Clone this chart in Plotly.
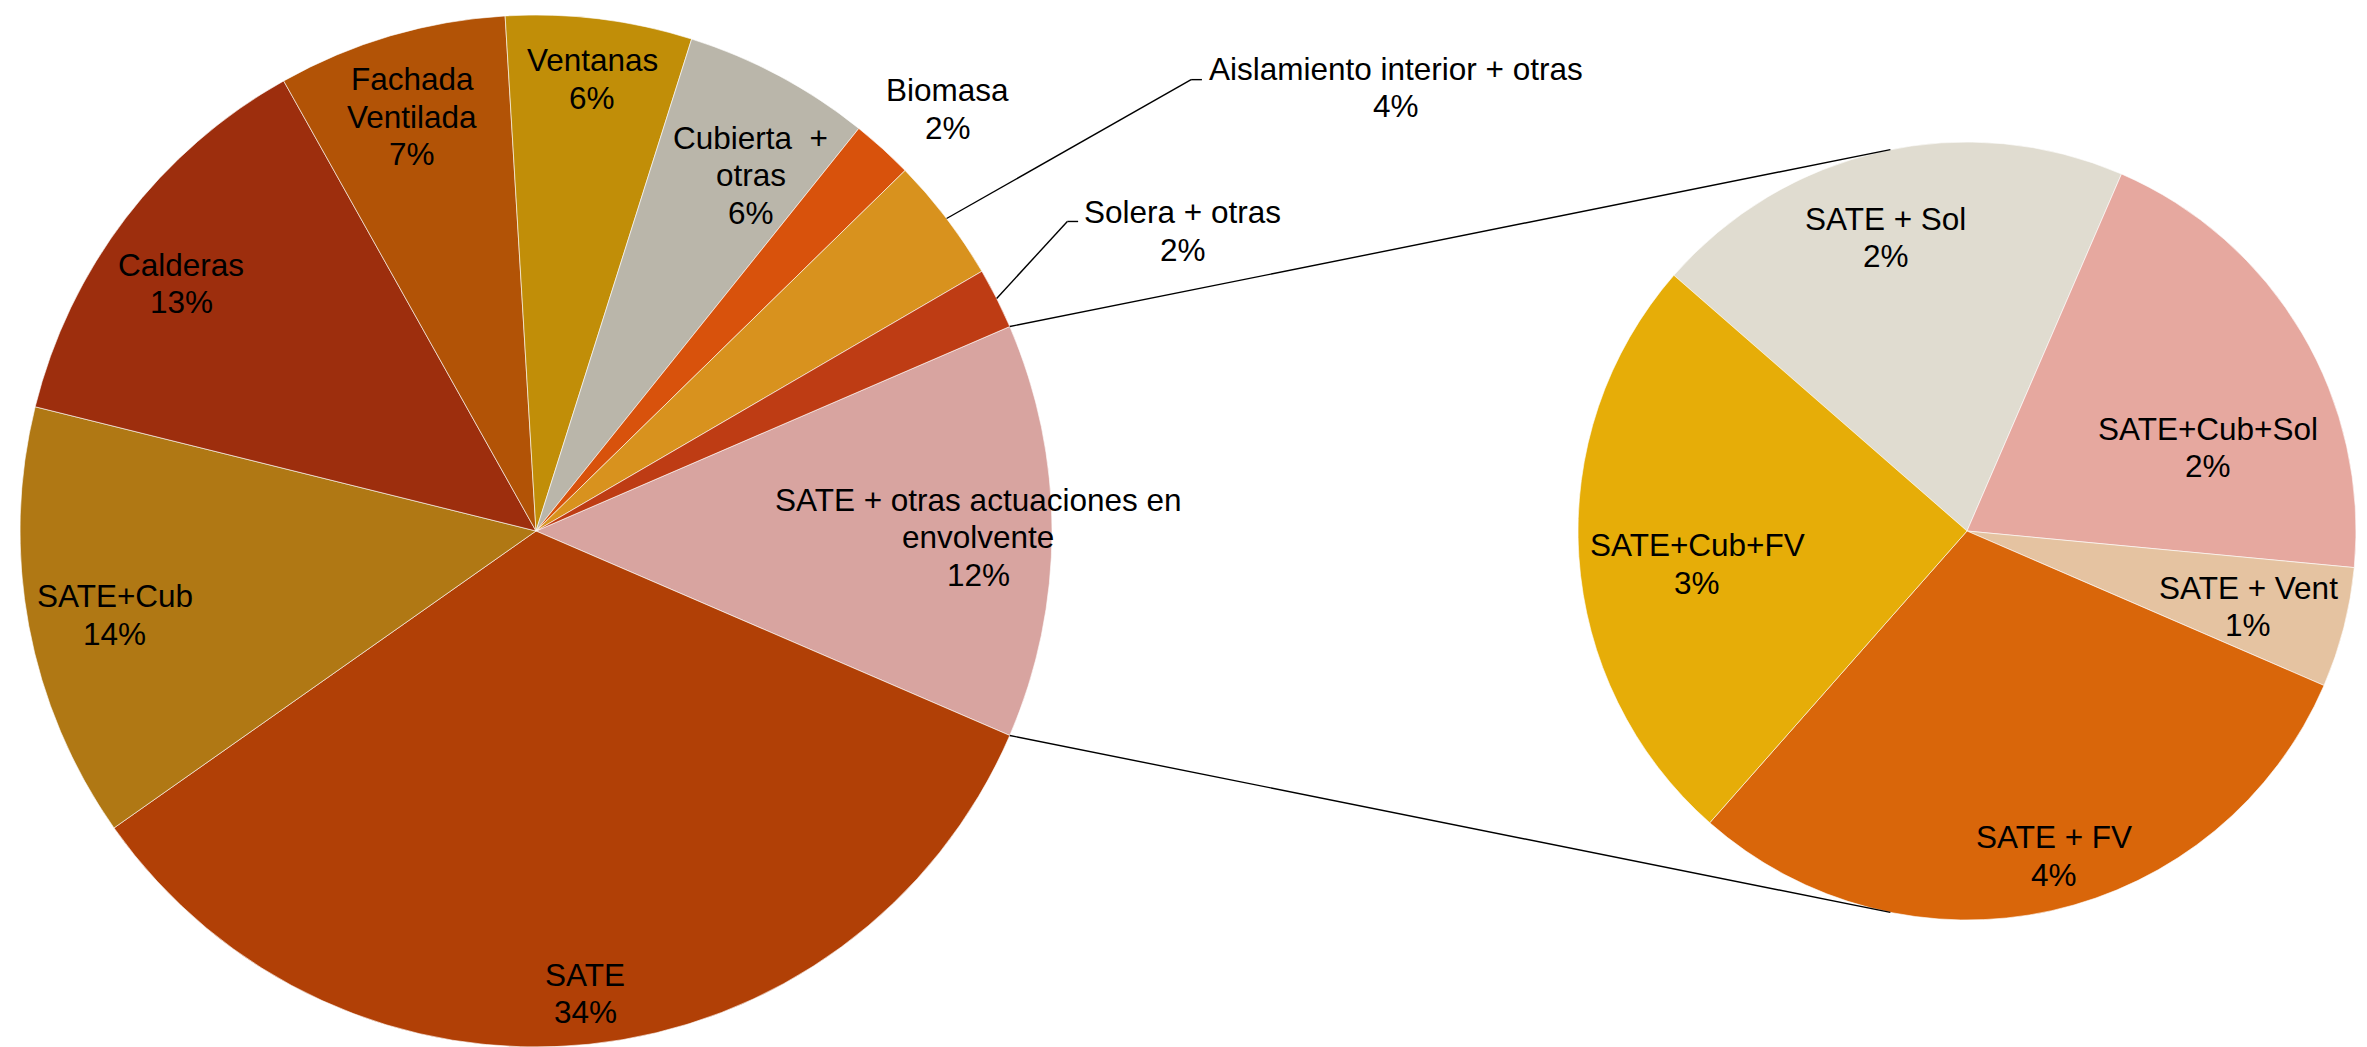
import math
import plotly.graph_objects as go

# ---------------- data ----------------
main_names = ["SATE + otras actuaciones en<br>envolvente", "SATE", "SATE+Cub", "Calderas",
              "Fachada<br>Ventilada", "Ventanas", "Cubierta\u00a0\u00a0+<br>otras", "Biomasa",
              "Aislamiento interior + otras", "Solera + otras"]
main_values = [12.97, 33.76, 13.63, 13.00, 7.18, 5.83, 5.88, 1.93, 3.92, 1.91]
main_pct_text = ["12%", "34%", "14%", "13%", "7%", "6%", "6%", "2%", "4%", "2%"]

sub_names = ["SATE + Sol", "SATE+Cub+Sol", "SATE + Vent", "SATE + FV", "SATE+Cub+FV"]
sub_values = [2.41, 2.40, 0.60, 3.60, 2.99]
sub_pct_text = ["2%", "2%", "1%", "4%", "3%"]

# ---------------- styles ----------------
main_colors = ["#D8A4A0", "#B14006", "#B07814", "#9D2E0D", "#B25306",
               "#C18E08", "#BAB6AA", "#D8520C", "#D8921E", "#BE3C14"]
sub_colors = ["#E0DCD0", "#E6A89F", "#E5C3A1", "#D9660A", "#E6AD08"]

W, H = 2367, 1047
C1, R1 = (536.0, 531.0), 516.0
C2, R2 = (1967.0, 531.0), 389.0
SUB_ROTATION = 311.1
FONT = dict(family="Liberation Sans, Arial, sans-serif", size=31.5, color="#000000")
LINE_H = 37.5  # px between text lines

# label placement: (radius fraction, angle offset from slice mid-angle in degrees)
main_label_pos = [(0.857, 0.8), (0.901, -0.2), (0.833, -0.7), (0.838, -2.4), (0.838, -0.3),
                  (0.883, 0.0), (0.805, 3.0), (1.142, 2.1), (1.875, 10.0), (1.382, 1.9)]
sub_label_pos = [(0.783, -2.7), (0.655, 11.5), (0.748, 0.6), (0.865, -2.4), (0.699, -3.2)]
# leader lines: index -> (corner offset, end offset) in px from label centre
leaders = {8: ((-204.8, -8.0), (-194.0, -8.0)), 9: ((-115.6, -9.5), (-104.8, -9.5))}


def pt(c, r, ang):
    a = math.radians(ang)
    return c[0] + r * math.sin(a), c[1] - r * math.cos(a)


def paper(x, y):
    return x / W, 1 - y / H


def slice_angles(values, rotation):
    tot = sum(values)
    out, cum = [], 0.0
    for v in values:
        a0 = rotation + 360 * cum / tot
        cum += v
        a1 = rotation + 360 * cum / tot
        out.append((a0, a1))
    return out


T1 = sum(main_values)
rot1 = 90 - main_values[0] / T1 * 360 / 2
main_ang = slice_angles(main_values, rot1)
sub_ang = slice_angles(sub_values, SUB_ROTATION)


def domain(c, r):
    x0, x1 = (c[0] - r) / W, (c[0] + r) / W
    y0, y1 = 1 - (c[1] + r) / H, 1 - (c[1] - r) / H
    return dict(x=[max(0, x0), min(1, x1)], y=[max(0, y0), min(1, y1)])


fig = go.Figure()
fig.add_trace(go.Pie(labels=[n.replace("<br>", " ") for n in main_names], values=main_values,
                     sort=False, direction="clockwise", rotation=rot1,
                     marker=dict(colors=main_colors, line=dict(color="rgba(255,255,255,0.6)", width=1)),
                     textinfo="none", hoverinfo="none", showlegend=False, domain=domain(C1, R1)))
fig.add_trace(go.Pie(labels=sub_names, values=sub_values,
                     sort=False, direction="clockwise", rotation=SUB_ROTATION,
                     marker=dict(colors=sub_colors, line=dict(color="rgba(255,255,255,0.6)", width=1)),
                     textinfo="none", hoverinfo="none", showlegend=False, domain=domain(C2, R2)))

annotations, shapes = [], []


def add_label(text, xy):
    lines = text.split("<br>")
    n = len(lines)
    for k, line in enumerate(lines):
        yy = xy[1] + (k - (n - 1) / 2) * LINE_H
        x, y = paper(xy[0], yy)
        annotations.append(dict(x=x, y=y, xref="paper", yref="paper", text=line, showarrow=False,
                                xanchor="center", yanchor="middle", align="center", font=FONT))


def add_line(p, q):
    x0, y0 = paper(*p)
    x1, y1 = paper(*q)
    shapes.append(dict(type="line", xref="paper", yref="paper", x0=x0, y0=y0, x1=x1, y1=y1,
                       line=dict(color="#000000", width=1.4)))


for i, (name, pct) in enumerate(zip(main_names, main_pct_text)):
    a0, a1 = main_ang[i]
    mid = (a0 + a1) / 2
    rf, da = main_label_pos[i]
    lab = pt(C1, R1 * rf, mid + da)
    add_label(f"{name}<br>{pct}", lab)
    if i in leaders:
        (cdx, cdy), (edx, edy) = leaders[i]
        start = pt(C1, R1, mid)
        corner = (lab[0] + cdx, lab[1] + cdy)
        end = (lab[0] + edx, lab[1] + edy)
        add_line(start, corner)
        add_line(corner, end)

for i, (name, pct) in enumerate(zip(sub_names, sub_pct_text)):
    a0, a1 = sub_ang[i]
    mid = (a0 + a1) / 2
    rf, da = sub_label_pos[i]
    add_label(f"{name}<br>{pct}", pt(C2, R2 * rf, mid + da))


# connector lines: tangents from the ends of the "other" slice to the second pie
def tangent(p, c, r, upper):
    dx, dy = p[0] - c[0], p[1] - c[1]
    d = math.hypot(dx, dy)
    base = math.degrees(math.atan2(dy, dx))
    alpha = math.degrees(math.acos(r / d))
    cands = [base + alpha, base - alpha]
    pts = [(c[0] + r * math.cos(math.radians(a)), c[1] + r * math.sin(math.radians(a))) for a in cands]
    pts.sort(key=lambda q: q[1])
    return pts[0] if upper else pts[1]


p_top = pt(C1, R1, main_ang[0][0])
p_bot = pt(C1, R1, main_ang[0][1])
add_line(p_top, tangent(p_top, C2, R2, True))
add_line(p_bot, tangent(p_bot, C2, R2, False))

fig.update_layout(width=W, height=H, margin=dict(l=0, r=0, t=0, b=0, pad=0),
                  paper_bgcolor="white", plot_bgcolor="white",
                  annotations=annotations, shapes=shapes)

fig.write_html("out.html", config={"displayModeBar": False},
               post_script="document.body.style.margin='0';document.body.style.overflow='hidden';")
